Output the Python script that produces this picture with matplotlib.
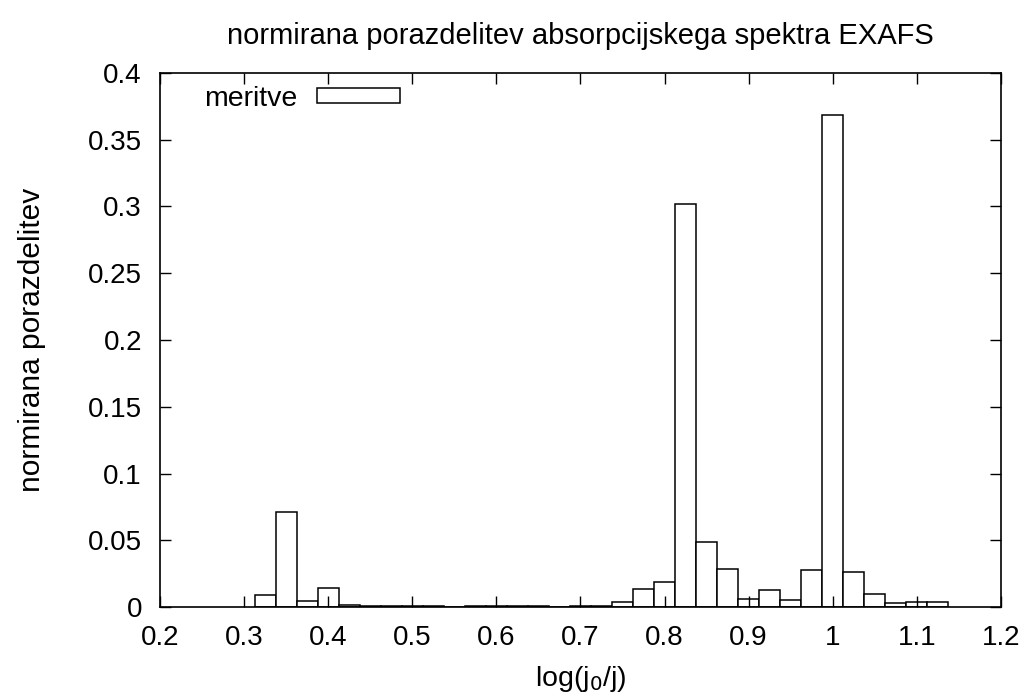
import numpy as np
import matplotlib.pyplot as plt

plt.rcParams['font.family'] = ['Liberation Sans', 'DejaVu Sans']

# bin centres of the histogram (width 0.025)
centres = [0.325, 0.35, 0.375, 0.4, 0.425, 0.45, 0.475, 0.5, 0.525, 0.55,
           0.575, 0.6, 0.625, 0.65, 0.675, 0.7, 0.725, 0.75, 0.775, 0.8,
           0.825, 0.85, 0.875, 0.9, 0.925, 0.95, 0.975, 1.0, 1.025, 1.05,
           1.075, 1.1, 1.125]
meritve = [0.0092, 0.0715, 0.0047, 0.0147, 0.0017, 0.0012, 0.0012, 0.0012, 0.0012, 0.0005,
           0.0012, 0.0012, 0.0012, 0.0012, 0.0, 0.0007, 0.0007, 0.0037, 0.0139, 0.0187,
           0.3015, 0.0491, 0.0284, 0.0062, 0.0129, 0.0052, 0.0277, 0.3684, 0.0262, 0.0100,
           0.0032, 0.0037, 0.0037]
width = 0.025

fig = plt.figure(figsize=(10.3, 7), dpi=100)
ax = fig.add_axes([0.1553, 0.1324, 0.8165, 0.7637])

ax.bar(centres, meritve, width=width, facecolor='white', edgecolor='black',
       linewidth=1.1, label='meritve')

ax.set_xlim(0.2, 1.2)
ax.set_ylim(0, 0.4)
ax.set_xticks(np.arange(0.2, 1.21, 0.1))
ax.set_xticklabels(['0.2', '0.3', '0.4', '0.5', '0.6', '0.7', '0.8', '0.9', '1', '1.1', '1.2'])
ax.set_yticks(np.arange(0, 0.401, 0.05))
ax.set_yticklabels(['0', '0.05', '0.1', '0.15', '0.2', '0.25', '0.3', '0.35', '0.4'])
ax.tick_params(direction='in', length=8, width=1, labelsize=20, pad=13,
               top=True, right=True)
for s in ax.spines.values():
    s.set_linewidth(1.2)

ax.set_xlabel('log(j$_0$/j)', fontsize=20.5, labelpad=9)
ax.set_ylabel('normirana porazdelitev', fontsize=21.5, labelpad=30)
ax.set_title('normirana porazdelitev absorpcijskega spektra EXAFS', fontsize=21, pad=21)

ax.legend(loc='upper left', frameon=False, markerfirst=False, fontsize=20.5,
          handlelength=2.9, handleheight=0.45, handletextpad=0.7, borderaxespad=0.4,
          bbox_to_anchor=(0.025, 1.018))

fig.savefig('out.png', dpi=100)
